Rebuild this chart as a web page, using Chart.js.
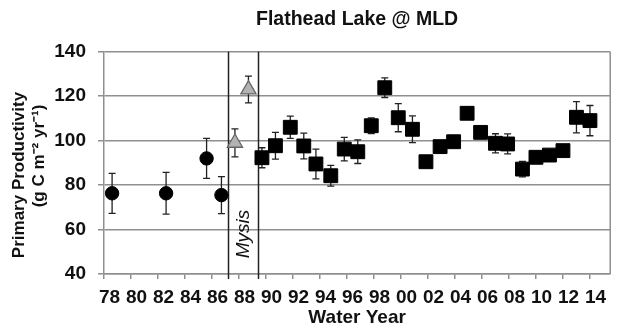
<!DOCTYPE html>
<html>
<head>
<meta charset="utf-8">
<script src="https://cdn.jsdelivr.net/npm/chart.js@4"></script>
<style>
  body { margin: 0; background: #fff; }
  #wrap { width: 621px; height: 329px; }
</style>
</head>
<body>
<div id="wrap"><canvas id="myChart" width="621" height="329"></canvas></div>
<script>
// values (water year, g C m-2 yr-1, +/- error)
const circleYears = [1978.6, 1982.6, 1985.6, 1986.7];
const circleValues = [76.3, 76.3, 92.0, 75.5];
const circleErrors = [9, 9.4, 9, 8.3];

const triangleYears = [1987.7, 1988.7];
const triangleValues = [99, 123];
const triangleErrors = [6.3, 6];

const squareYears = [1989.7, 1990.7, 1991.8, 1992.8, 1993.7, 1994.8, 1995.8, 1996.8, 1997.8, 1998.8,
  1999.8, 2000.85, 2001.85, 2002.9, 2003.9, 2004.9, 2005.9, 2007, 2007.9, 2009,
  2010, 2011, 2012, 2013, 2014];
const squareValues = [92.3, 97.7, 106, 97.6, 89.5, 84.2, 96.2, 95, 106.7, 123.8,
  110.3, 105.1, 90.5, 97.3, 99.5, 112.3, 103.7, 98.8, 98.5, 87.2,
  92.5, 93.5, 95.5, 110.5, 109];
const squareErrors = [4.5, 6, 5, 5.8, 6.7, 4.7, 5.3, 5.3, 3.5, 4.4,
  6.3, 6, 2, 2, 2, 2.5, 2, 4.3, 4.5, 3.5,
  1.5, 1.5, 1.5, 7, 6.8];

const xTickYears = [1978, 1980, 1982, 1984, 1986, 1988, 1990, 1992, 1994, 1996,
  1998, 2000, 2002, 2004, 2006, 2008, 2010, 2012, 2014];
const yTicks = [40, 60, 80, 100, 120, 140];
const mysisBounds = [1987.2, 1989.4];
const mysisLabelValue = 58;
const yTitleLines = ['Primary Productivity', '(g C m\u207B\u00B2 yr\u207B\u00B9)'];

const FONT = "'Liberation Sans', Arial, sans-serif";
const GRID = '#8f8f8f';

function toPoints(xs, ys) {
  let pts = [];
  for(let i = 0; i < xs.length; i++) {
    pts.push({x: xs[i], y: ys[i]});
  }
  return pts;
}

const errorLists = [circleErrors, triangleErrors, squareErrors];

// error bars, mysis lines and label, right border, y title
const extras = {
  id: 'extras',
  beforeDatasetsDraw(chart) {
    const ctx = chart.ctx;
    const xs = chart.scales.x, ys = chart.scales.y;
    const area = chart.chartArea;
    ctx.save();
    // right border of the plot box
    ctx.strokeStyle = GRID;
    ctx.lineWidth = 1.5;
    ctx.beginPath();
    ctx.moveTo(area.right, area.top);
    ctx.lineTo(area.right, area.bottom);
    ctx.stroke();
    // mysis lines
    ctx.strokeStyle = '#222';
    ctx.lineWidth = 1.5;
    mysisBounds.forEach(v => {
      const px = Math.round(xs.getPixelForValue(v)) + 0.5;
      ctx.beginPath();
      ctx.moveTo(px, area.top);
      ctx.lineTo(px, area.bottom + 5);
      ctx.stroke();
    });
    // mysis label
    const mx = (xs.getPixelForValue(mysisBounds[0]) + xs.getPixelForValue(mysisBounds[1])) / 2 + 1;
    const my = ys.getPixelForValue(mysisLabelValue);
    ctx.translate(mx, my);
    ctx.rotate(-Math.PI / 2);
    ctx.fillStyle = '#111';
    ctx.font = 'italic 19px ' + FONT;
    ctx.textAlign = 'center';
    ctx.textBaseline = 'middle';
    ctx.fillText('Mysis', 0, 0);
    ctx.restore();

    // y axis title, two lines
    ctx.save();
    ctx.fillStyle = '#111';
    ctx.font = 'bold 17px ' + FONT;
    ctx.textAlign = 'center';
    ctx.textBaseline = 'middle';
    ctx.translate(19, 175);
    ctx.rotate(-Math.PI / 2);
    ctx.fillText(yTitleLines[0], 0, 0);
    ctx.fillText(yTitleLines[1], 19, 20.5);
    ctx.restore();

    // error bars
    ctx.save();
    ctx.strokeStyle = '#222';
    ctx.lineWidth = 1.3;
    chart.data.datasets.forEach((ds, di) => {
      const errs = errorLists[di];
      ds.data.forEach((p, i) => {
        const px = xs.getPixelForValue(p.x);
        const top = ys.getPixelForValue(p.y + errs[i]);
        const bot = ys.getPixelForValue(p.y - errs[i]);
        ctx.beginPath();
        ctx.moveTo(px, top);
        ctx.lineTo(px, bot);
        ctx.moveTo(px - 3.5, top);
        ctx.lineTo(px + 3.5, top);
        ctx.moveTo(px - 3.5, bot);
        ctx.lineTo(px + 3.5, bot);
        ctx.stroke();
      });
    });
    ctx.restore();
  }
};

const config = document.getElementById('myChart');

const chart = new Chart(config, {
  type: 'scatter',
  data: {
    datasets: [{
      label: 'circles',
      data: toPoints(circleYears, circleValues),
      pointStyle: 'circle',
      pointRadius: 6.7,
      backgroundColor: '#000',
      borderColor: '#000',
      borderWidth: 1
    }, {
      label: 'triangles',
      data: toPoints(triangleYears, triangleValues),
      pointStyle: 'triangle',
      pointRadius: 8.8,
      backgroundColor: '#b3b3b3',
      borderColor: '#666',
      borderWidth: 1.3
    }, {
      label: 'squares',
      data: toPoints(squareYears, squareValues),
      pointStyle: 'rect',
      pointRadius: 9.8,
      backgroundColor: '#000',
      borderColor: '#000',
      borderWidth: 1
    }]
  },
  options: {
    responsive: false,
    animation: false,
    layout: {
      padding: {left: 0, right: 6, top: 0, bottom: 0}
    },
    plugins: {
      legend: { display: false },
      tooltip: { enabled: false },
      title: {
        display: true,
        text: 'Flathead Lake @ MLD',
        fullSize: false,
        color: '#111',
        font: { family: FONT, size: 19.5, weight: 'bold' },
        padding: { top: 8.3, bottom: 20 }
      }
    },
    scales: {
      x: {
        type: 'linear',
        min: 1978,
        max: 2015.5,
        afterFit: (scale) => { scale.height = 55; },
        afterBuildTicks: (scale) => {
          scale.ticks = xTickYears.map(v => ({value: v}));
        },
        grid: {
          drawOnChartArea: false,
          drawTicks: true,
          tickLength: 5,
          color: GRID,
          lineWidth: 1.5
        },
        border: { display: true, color: GRID, width: 1.5 },
        ticks: {
          autoSkip: false,
          maxRotation: 0,
          padding: 7,
          labelOffset: 5.5,
          color: '#111',
          font: { family: FONT, size: 19, weight: 'bold' },
          callback: (v) => String(v % 100).padStart(2, '0')
        },
        title: {
          display: true,
          text: 'Water Year',
          color: '#111',
          font: { family: FONT, size: 19, weight: 'bold' },
          padding: { top: 0, bottom: 0 }
        }
      },
      y: {
        min: 40,
        max: 140,
        afterFit: (scale) => { scale.width = 104; },
        afterBuildTicks: (scale) => {
          scale.ticks = yTicks.map(v => ({value: v}));
        },
        grid: {
          color: GRID,
          lineWidth: 1.5,
          tickLength: 6
        },
        border: { display: true, color: GRID, width: 1.5 },
        ticks: {
          padding: 12,
          color: '#111',
          font: { family: FONT, size: 19, weight: 'bold' }
        }
      }
    }
  },
  plugins: [extras]
});
</script>
</body>
</html>
